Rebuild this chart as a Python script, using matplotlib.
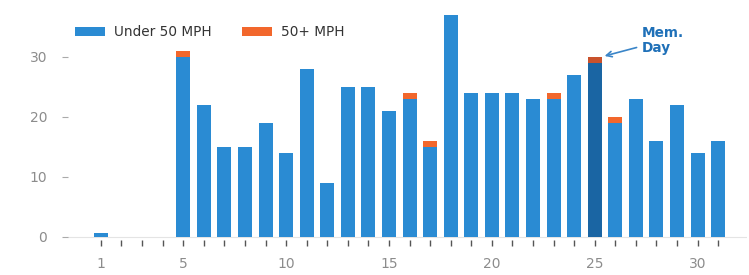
import matplotlib.pyplot as plt
import numpy as np

# daily counts, May
days = list(range(1, 32))
under_50 = [0.7, 0, 0, 0, 30, 22, 15, 15, 19, 14, 28, 9, 25, 25, 21, 23,
            15, 37, 24, 24, 24, 23, 23, 27, 29, 19, 23, 16, 22, 14, 16]
over_50 = [0, 0, 0, 0, 1, 0, 0, 0, 0, 0, 0, 0, 0, 0, 0, 1,
           1, 0, 0, 0, 0, 0, 1, 0, 1, 1, 0, 0, 0, 0, 0]
label_days = [1, 5, 10, 15, 20, 25, 30]
highlight_day = 25

blue = '#2a8bd3'
blue_dark = '#1a65a3'
orange = '#f2672c'
orange_dark = '#c9522c'

fig = plt.figure(figsize=(7.49, 2.75), dpi=100)
ax = fig.add_axes([68 / 749, 35 / 275, 679 / 749, 235 / 275])

x = np.array(days)
u = np.array(under_50)
o = np.array(over_50)
bcol = [blue_dark if d == highlight_day else blue for d in days]
ocol = [orange_dark if d == highlight_day else orange for d in days]

ax.bar(x, u, width=0.68, color=bcol, label='Under 50 MPH', zorder=2)
ax.bar(x, o, width=0.68, bottom=u, color=ocol, label='50+ MPH', zorder=2)
ax.axhline(0, color='#e4e4e4', lw=0.8, zorder=1)

ax.set_xlim(-0.6, 32.4)
ax.set_ylim(-0.5, 38.6)
for s in ax.spines.values():
    s.set_visible(False)

ax.set_xticks(days)
ax.set_xticklabels([str(d) if d in label_days else '' for d in days])
ax.set_yticks([0, 10, 20, 30])
ax.tick_params(axis='x', length=4, width=1, color='#555555', pad=8,
               labelsize=10, labelcolor='#8c8c8c')
ax.tick_params(axis='y', length=4, width=0.8, color='#aaaaaa', pad=11,
               labelsize=10, labelcolor='#8c8c8c')

ax.legend(loc='upper left', bbox_to_anchor=(-0.008, 0.965), ncol=2, frameon=False,
          fontsize=9.8, handlelength=2.2, handleheight=0.7, columnspacing=2.2,
          handletextpad=0.7, labelcolor='#333333')

ax.annotate('Mem.\nDay', xy=(highlight_day + 0.35, 30.0), xytext=(27.3, 32.7),
            fontsize=9.8, fontweight='bold', color='#1f70b8', va='center',
            linespacing=1.1,
            arrowprops=dict(arrowstyle='->', color='#3a85c8', lw=1.2))

fig.savefig('out.png', dpi=100)
